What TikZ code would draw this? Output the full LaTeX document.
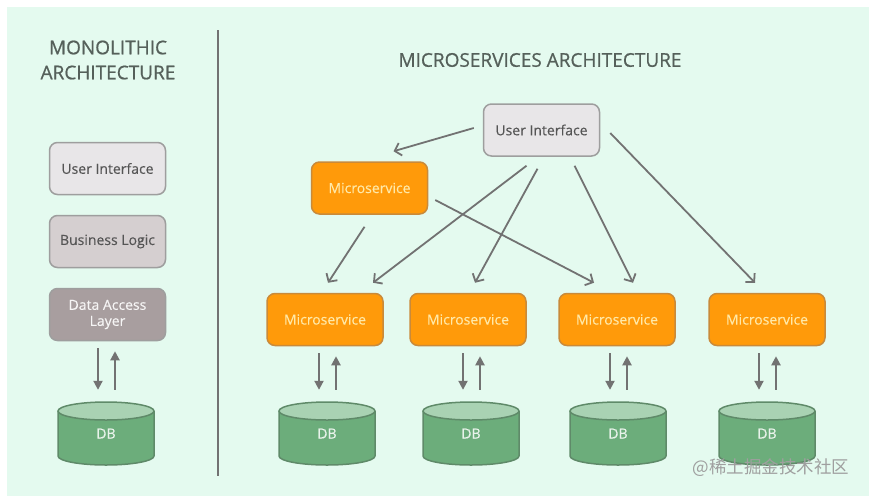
\documentclass[tikz,border=0pt]{standalone}
\usepackage{fontspec}
\setmainfont{Open Sans}
\newfontfamily\titlefont{Open Sans}[FakeBold=0.7]
\newfontfamily\boxfont{Open Sans}[FakeBold=0.2]
\newfontfamily\cjkfont{Noto Sans CJK SC}
\usetikzlibrary{arrows.meta,calc}
\definecolor{mint}{HTML}{E4FAEF}
\definecolor{titlegray}{HTML}{55605A}
\definecolor{txtgray}{HTML}{555555}
\definecolor{boxgray}{HTML}{9E9E9E}
\definecolor{uifill}{HTML}{E8E6E8}
\definecolor{blfill}{HTML}{D5CFD0}
\definecolor{dalfill}{HTML}{A89E9F}
\definecolor{msorange}{HTML}{FF9A0A}
\definecolor{msborder}{HTML}{C98A3A}
\definecolor{mstext}{HTML}{FFE9A8}
\definecolor{arrgray}{HTML}{727272}
\definecolor{dbbody}{HTML}{6CAD7B}
\definecolor{dbtop}{HTML}{A9D2B3}
\definecolor{dbline}{HTML}{5F8A69}
\newcommand\dbcyl[4]{%
  \fill[dbbody] (#2-48,#3-22.5) -- (#2-48,#3+22.5) arc[start angle=180,end angle=360,x radius=48pt,y radius=9pt] -- (#2+48,#3-22.5) -- cycle;
  \draw[dbline,line width=1.5pt] (#2-48,#3-22.5) -- (#2-48,#3+22.5) arc[start angle=180,end angle=360,x radius=48pt,y radius=9pt] -- (#2+48,#3-22.5);
  \filldraw[fill=dbtop,draw=dbline,line width=1.5pt] (#2,#3-22.5) ellipse[x radius=48pt,y radius=9pt];
  \node[dbnode] (#1) at (#2,#3) {\raisebox{-5pt}{#4}};
}
\begin{document}
\begin{tikzpicture}[x=1pt,y=-1pt,
  box/.style={rounded corners=8pt, line width=1.5pt, minimum width=116pt, minimum height=52pt, align=center, font=\boxfont\fontsize{14}{16}\selectfont, inner sep=2pt},
  uibox/.style={box, draw=boxgray, fill=uifill, text=txtgray},
  blbox/.style={box, draw=boxgray, fill=blfill, text=txtgray},
  dalbox/.style={box, draw=boxgray, fill=dalfill, text=white!90!dalfill},
  msbox/.style={box, draw=msborder, fill=msorange, text=mstext},
  dbnode/.style={minimum width=96pt, minimum height=63pt, inner sep=0pt, text=white!85!dbbody, font=\boxfont\fontsize{14}{16}\selectfont},
  flow/.style={draw=arrgray, line width=1.8pt, -{Straight Barb[length=6pt,width=13pt]}},
  io/.style={draw=arrgray, line width=2pt, -{Triangle[length=9pt,width=9pt]}},
  title/.style={text=titlegray, font=\titlefont\fontsize{19}{25}\selectfont, align=center}
]
\useasboundingbox (0,0) rectangle (869,496);
\fill[white] (0,0) rectangle (869,496);
\fill[mint] (7,7) rectangle (869,496);

% titles
\node[title] (tmono) at (108,60) {MONOLITHIC\\ARCHITECTURE};
\node[title] (tmicro) at (540,60) {MICROSERVICES ARCHITECTURE};

% separator
\coordinate (septop) at (218,30);
\coordinate (sepbot) at (218,476);
\draw[arrgray, line width=1.5pt] (septop) -- (sepbot);

% monolithic
\node[uibox] (lui) at (107.5,168.5) {User Interface};
\node[blbox] (lbl) at (107.5,241.5) {Business Logic};
\node[dalbox] (ldal) at (107.5,314.5) {Data Access\\Layer};
\dbcyl{ldb}{106}{433.5}{DB}
\draw[io] ($(ldal.south -| ldb.north)+(-8,7)$) -- ($(ldb.north)+(-8,-12)$);
\draw[io] ($(ldb.north)+(9,-12)$) -- ($(ldal.south -| ldb.north)+(9,10)$);

% microservices
\node[uibox] (ui) at (541.5,130) {User Interface};
\node[msbox] (mst) at (369.5,188) {Microservice};
\node[msbox] (ms1) at (325,319.5) {Microservice};
\node[msbox] (ms2) at (468,319.5) {Microservice};
\node[msbox] (ms3) at (617,319.5) {Microservice};
\node[msbox] (ms4) at (767,319.5) {Microservice};

\dbcyl{db1}{327}{433.5}{DB}
\dbcyl{db2}{471}{433.5}{DB}
\dbcyl{db3}{618}{433.5}{DB}
\dbcyl{db4}{767}{433.5}{DB}

\foreach \m/\d in {ms1/db1, ms2/db2, ms3/db3, ms4/db4}{
  \draw[io] ($(\m.south -| \d.north)+(-8,7)$) -- ($(\d.north)+(-8,-12)$);
  \draw[io] ($(\d.north)+(9,-12)$) -- ($(\m.south -| \d.north)+(9,10)$);
}

\draw[flow] ($(ui.west)+(-9,-2)$) -- ($(mst.north)+(24,-10)$);
\draw[flow] ($(ui.south)+(-15,9)$) -- ($(ms1.north)+(48,-10)$);
\draw[flow] ($(ui.south)+(-4,12)$) -- ($(ms2.north)+(7,-10)$);
\draw[flow] ($(ui.south)+(33,9)$) -- ($(ms3.north)+(16,-10)$);
\draw[flow] ($(ui.east)+(10,3)$) -- ($(ms4.north)+(-12,-10)$);
\draw[flow] ($(mst.south)+(-5,12)$) -- ($(ms1.north)+(3,-10)$);
\draw[flow] ($(mst.east)+(7,12)$) -- ($(ms3.north)+(-23,-10)$);

% watermark
\node[text=gray!75, font=\cjkfont\fontsize{17.5}{18}\selectfont] (wm) at (771,468) {@稀土掘金技术社区};
\end{tikzpicture}
\end{document}
